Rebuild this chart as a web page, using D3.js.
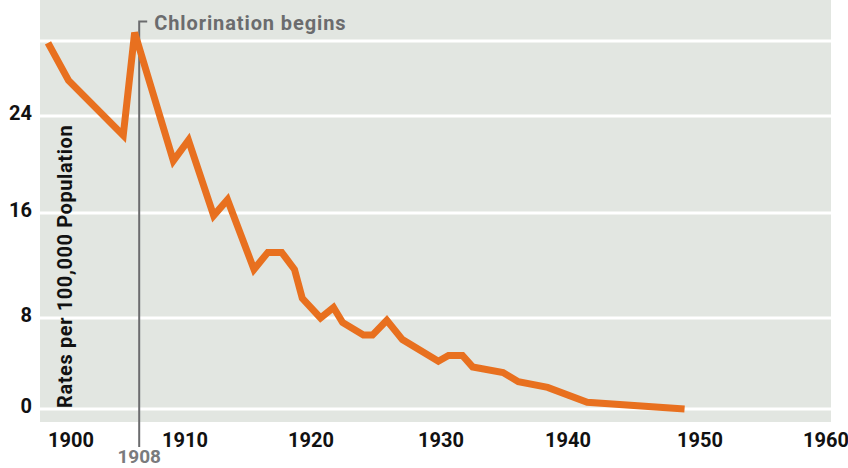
<!DOCTYPE html>
<html>
<head>
<meta charset="utf-8">
<script src="https://cdn.jsdelivr.net/npm/d3@7"></script>
<style>
  html, body { margin: 0; padding: 0; background: #ffffff; }
  svg { display: block; font-family: Roboto, "DejaVu Sans", sans-serif; }
</style>
</head>
<body>
<svg id="canvas" width="848" height="468"></svg>
<script>
"use strict";

// typhoid death rate
const years = [
  1900, 1901.8, 1906.6, 1907.6, 1910.9, 1912.1, 1914.1, 1915.2, 1917.3, 1918.4,
  1919.5, 1920.5, 1921.1, 1922.5, 1923.5, 1924.2, 1925.8, 1926.5, 1927.6, 1928.8,
  1931.6, 1932.4, 1933.5, 1934.3, 1936.7, 1937.9, 1940.2, 1943.2, 1950.6
];
const rates = [
  31.8, 27.8, 22.4, 32.9, 20.3, 22.0, 15.8, 17.1, 11.7, 13.0,
  13.0, 11.7, 9.5, 8.0, 8.8, 7.6, 6.5, 6.5, 7.8, 6.1,
  4.2, 4.7, 4.7, 3.7, 3.2, 2.4, 1.9, 0.6, 0.0
];

const xTicks = [1900, 1910, 1920, 1930, 1940, 1950, 1960];
const yGrid = [0, 8, 16, 24, 32];
const yTicks = [0, 8, 16, 24];
const chlorinationYear = 1908;
const yTitle = "Rates per 100,000 Population";
const noteText = "Chlorination begins";

const canvas = d3.select("#canvas");

// the printed chart has uneven spacing, so both scales are piecewise
const x = d3.scaleLinear()
  .domain(xTicks)
  .range([48, 162, 288, 418, 545, 677, 803]);

const y = d3.scaleLinear()
  .domain(yGrid)
  .range([409, 318, 213, 116, 41]);

canvas.append("rect")
  .attr("x", 40)
  .attr("y", 0)
  .attr("width", 791)
  .attr("height", 422)
  .attr("fill", "#e2e6e1");

canvas.selectAll("line.grid")
  .data(yGrid)
  .enter()
  .append("line")
  .attr("class", "grid")
  .attr("x1", 40)
  .attr("x2", 831)
  .attr("y1", (d) => y(d))
  .attr("y2", (d) => y(d))
  .attr("stroke", "#ffffff")
  .attr("stroke-width", 3);

canvas.selectAll("text.ytick")
  .data(yTicks)
  .enter()
  .append("text")
  .attr("class", "ytick")
  .attr("x", 32)
  .attr("y", (d) => y(d) + 4)
  .attr("text-anchor", "end")
  .attr("font-size", 20)
  .attr("font-weight", "bold")
  .attr("fill", "#111111")
  .text((d) => d);

canvas.selectAll("text.xtick")
  .data(xTicks)
  .enter()
  .append("text")
  .attr("class", "xtick")
  .attr("x", (d) => x(d))
  .attr("y", 446.5)
  .attr("font-size", 20)
  .attr("font-weight", "bold")
  .attr("fill", "#111111")
  .text((d) => d);

canvas.append("text")
  .attr("transform", "translate(71.5,408) rotate(-90)")
  .attr("font-size", 20)
  .attr("font-weight", "bold")
  .attr("letter-spacing", 0.6)
  .attr("fill", "#111111")
  .text(yTitle);

// chlorination marker
const cx = x(chlorinationYear);

canvas.append("path")
  .attr("d", `M${cx + 8},21.5 H${cx} V447`)
  .attr("fill", "none")
  .attr("stroke", "#6b6c6e")
  .attr("stroke-width", 2);

canvas.append("text")
  .attr("x", cx + 15)
  .attr("y", 30)
  .attr("font-size", 20)
  .attr("font-weight", "bold")
  .attr("letter-spacing", 0.9)
  .attr("fill", "#6b6c6e")
  .text(noteText);

canvas.append("text")
  .attr("x", cx)
  .attr("y", 463)
  .attr("text-anchor", "middle")
  .attr("font-size", 19)
  .attr("font-weight", "bold")
  .attr("fill", "#7a7b7d")
  .text(chlorinationYear);

const line = d3.line()
  .x((d, i) => x(years[i]))
  .y((d) => y(d));

canvas.append("path")
  .datum(rates)
  .attr("d", line)
  .attr("fill", "none")
  .attr("stroke", "#e8701f")
  .attr("stroke-width", 7)
  .attr("stroke-linejoin", "miter")
  .attr("stroke-linecap", "butt");
</script>
</body>
</html>
